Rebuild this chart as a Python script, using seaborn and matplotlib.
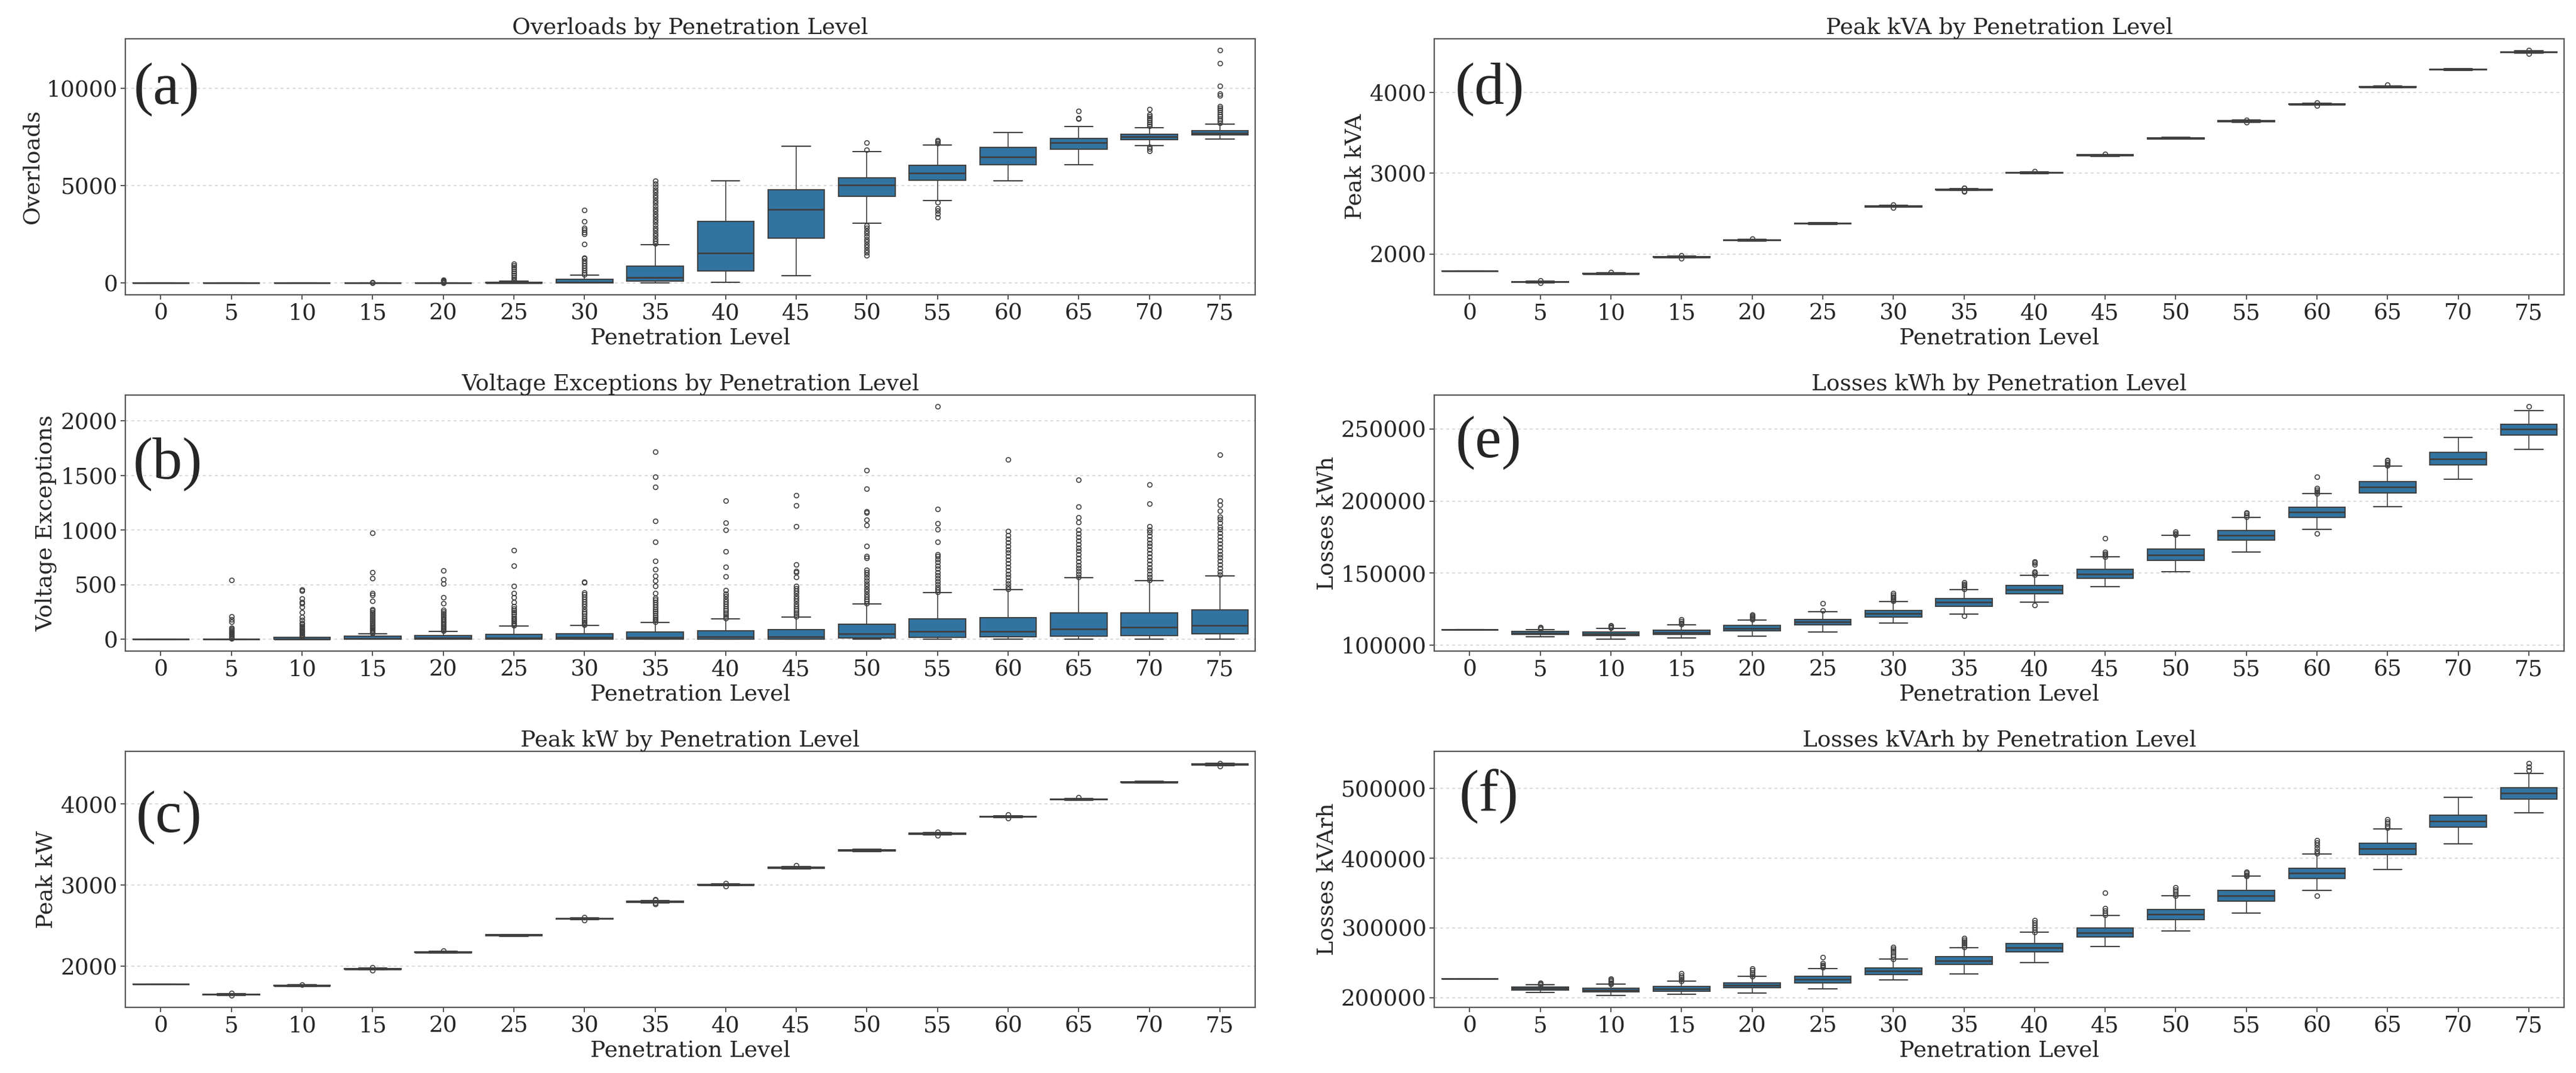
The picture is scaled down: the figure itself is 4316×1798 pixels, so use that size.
import numpy as np
import pandas as pd
import seaborn as sns
import matplotlib.pyplot as plt
from matplotlib.ticker import MultipleLocator

sns.set_style('ticks')
plt.rcParams['font.family'] = ['DejaVu Serif']

levels = [0, 5, 10, 15, 20, 25, 30, 35, 40, 45, 50, 55, 60, 65, 70, 75]

# (a) Overloads - box stats
ovl_q1 = [0, 0, 0, 0, 0, 0, 5, 90, 620, 2300, 4450, 5290, 6080, 6860, 7370, 7590]
ovl_med = [0, 0, 0, 0, 0, 10, 40, 300, 1550, 3770, 5030, 5640, 6480, 7210, 7510, 7700]
ovl_q3 = [0, 0, 0, 0, 5, 50, 190, 870, 3170, 4780, 5410, 6040, 6970, 7430, 7640, 7820]
ovl_lo = [0, 0, 0, 0, 0, 0, 0, 0, 55, 380, 3080, 4230, 5250, 6070, 7060, 7380]
ovl_hi = [0, 0, 0, 0, 10, 105, 420, 1970, 5240, 7030, 6750, 7090, 7730, 8030, 7980, 8170]
ovl_fl = [[], [], [], [25, 45], [20, 45, 70, 100, 130, 160],
          [120, 200, 300, 400, 500, 600, 700, 800, 900, 980],
          [430, 540, 660, 780, 900, 1020, 1140, 1260, 1310, 2000, 2510, 2620, 2750, 2820, 3150, 3740],
          [2020, 2150, 2290, 2420, 2560, 2700, 2840, 2980, 3120, 3260, 3400, 3540, 3680, 3820,
           3960, 4100, 4240, 4380, 4520, 4660, 4800, 4940, 5080, 5240],
          [], [],
          [6850, 7200, 2960, 2820, 2680, 2540, 2400, 2260, 2120, 1980, 1840, 1700, 1560, 1420],
          [7180, 7260, 7340, 4150, 3830, 3720, 3550, 3390],
          [], [8420, 8470, 8820],
          [8060, 8160, 8260, 8360, 8460, 8560, 8660, 8930, 6990, 6890, 6780],
          [8220, 8330, 8440, 8550, 8660, 8770, 8880, 8990, 9070, 9620, 9730, 10110, 11290, 11940]]

# (b) Voltage Exceptions
vex_q1 = [0, 0, 0, 0, 0, 0, 0, 0, 0, 4, 13, 17, 23, 27, 33, 52]
vex_med = [0, 0, 3, 5, 12, 15, 20, 21, 23, 23, 52, 73, 75, 96, 111, 128]
vex_q3 = [0, 0, 17, 27, 33, 48, 54, 69, 79, 90, 138, 188, 199, 243, 240, 268]
vex_lo = [0, 0, 0, 0, 0, 0, 0, 0, 0, 0, 0, 0, 0, 0, 0, 0]
vex_hi = [0, 0, 21, 52, 75, 121, 128, 157, 190, 205, 326, 429, 456, 565, 540, 580]
vex_fl = [[],
          [8, 15, 25, 35, 45, 55, 65, 75, 85, 95, 105, 160, 185, 210, 545],
          [25, 32, 40, 48, 55, 63, 72, 80, 90, 100, 112, 125, 140, 152, 175, 205, 247, 299, 330, 341, 372, 446, 456],
          [56, 65, 75, 86, 98, 110, 122, 135, 150, 165, 182, 198, 215, 232, 250, 265, 278, 351, 408, 425, 560, 613, 975],
          [80, 92, 105, 118, 132, 146, 160, 175, 190, 205, 222, 238, 255, 268, 330, 383, 508, 550, 628],
          [126, 138, 150, 165, 180, 196, 212, 230, 248, 265, 282, 300, 341, 383, 425, 487, 672, 818],
          [132, 145, 160, 178, 196, 215, 235, 256, 278, 300, 322, 345, 368, 392, 412, 430, 519, 529],
          [162, 175, 190, 206, 222, 240, 258, 278, 298, 320, 342, 362, 380, 425, 487, 540, 582, 640, 718,
           891, 1082, 1393, 1487, 1718],
          [195, 210, 226, 243, 262, 282, 302, 324, 346, 370, 395, 420, 448, 575, 665, 805, 1000, 1067, 1270],
          [210, 226, 243, 262, 282, 304, 326, 350, 374, 398, 422, 445, 468, 487, 571, 613, 623, 686, 1036, 1224, 1316],
          [332, 350, 370, 392, 414, 438, 462, 486, 512, 538, 564, 590, 612, 634, 743, 759, 854, 1044, 1094,
           1161, 1170, 1381, 1550],
          [432, 455, 480, 505, 532, 560, 588, 616, 645, 675, 705, 735, 760, 780, 891, 1010, 1061, 1192, 2130],
          [460, 485, 512, 540, 570, 600, 632, 664, 696, 728, 760, 792, 824, 856, 888, 920, 952, 990, 1648],
          [570, 596, 624, 652, 682, 712, 744, 776, 808, 840, 872, 904, 936, 968, 1000, 1073, 1115, 1213, 1460],
          [545, 572, 600, 630, 660, 692, 724, 756, 788, 820, 852, 884, 916, 948, 980, 1000, 1036, 1240, 1418],
          [590, 620, 652, 684, 716, 748, 780, 812, 844, 876, 908, 940, 972, 1010, 1030, 1070, 1100, 1120,
           1178, 1230, 1272, 1690]]

# (c) Peak kW
kw_q1 = [1782, 1650, 1757, 1963, 2168, 2377, 2582, 2791, 3000, 3211, 3422, 3629, 3840, 4051, 4263, 4481]
kw_med = [1782, 1654, 1761, 1967, 2173, 2382, 2587, 2796, 3005, 3216, 3428, 3634, 3845, 4057, 4269, 4486]
kw_q3 = [1782, 1658, 1765, 1971, 2178, 2388, 2592, 2801, 3010, 3221, 3434, 3639, 3850, 4063, 4275, 4491]
kw_lo = [1782, 1642, 1750, 1955, 2160, 2370, 2575, 2784, 2993, 3203, 3415, 3621, 3832, 4043, 4256, 4473]
kw_hi = [1782, 1666, 1772, 1979, 2186, 2395, 2599, 2808, 3017, 3229, 3441, 3647, 3858, 4071, 4282, 4499]
kw_fl = [[], [1638, 1670], [1776], [1985, 1950], [2192], [], [2566, 2608], [2770, 2778, 2816, 2823],
         [2985, 3025], [3245], [], [3655, 3612], [3866, 3823], [4080], [], [4505, 4468]]

# (d) Peak kVA
kva_q1 = [1790, 1652, 1752, 1959, 2166, 2373, 2584, 2791, 3002, 3217, 3426, 3638, 3848, 4062, 4278, 4494]
kva_med = [1790, 1656, 1756, 1963, 2171, 2378, 2589, 2796, 3007, 3222, 3432, 3643, 3853, 4068, 4284, 4499]
kva_q3 = [1790, 1660, 1760, 1967, 2176, 2384, 2594, 2801, 3012, 3227, 3438, 3648, 3858, 4074, 4290, 4504]
kva_lo = [1790, 1644, 1745, 1951, 2158, 2366, 2577, 2784, 2995, 3210, 3419, 3630, 3840, 4054, 4271, 4486]
kva_hi = [1790, 1668, 1767, 1975, 2184, 2391, 2601, 2808, 3019, 3234, 3445, 3656, 3866, 4082, 4297, 4512]
kva_fl = [[], [1640, 1672], [1774], [1980, 1946], [2190], [], [2570, 2610], [2776, 2782, 2814, 2818],
          [3024], [3240], [], [3662, 3626], [3872, 3836], [4094], [], [4520, 4480]]

# (e) Losses kWh
lkwh_q1 = [110930, 107450, 106650, 107450, 109980, 113940, 119640, 126930, 135640, 146570, 158930, 172710, 188550, 205810, 225140, 245730]
lkwh_med = [110930, 108400, 107920, 108870, 111720, 116000, 122020, 129620, 138650, 149420, 162570, 176190, 192190, 209610, 229410, 249850]
lkwh_q3 = [110930, 109350, 109030, 110300, 113460, 117740, 124080, 132310, 141500, 152590, 166530, 179520, 195670, 213410, 233690, 253330]
lkwh_lo = [110930, 105860, 103960, 104750, 106340, 109030, 115210, 121700, 129620, 140710, 151000, 164790, 180150, 196150, 215160, 235750]
lkwh_hi = [110930, 110930, 111720, 114260, 117580, 123290, 130100, 138650, 148630, 161140, 176350, 188700, 205180, 224190, 243990, 262680]
lkwh_fl = [[], [111100, 112000, 112600], [111900, 112500, 113100, 113800],
           [114600, 115500, 116400, 117700], [117900, 118700, 119500, 120300, 121200],
           [124100, 128800], [130500, 131500, 132600, 133700, 134800, 136000],
           [139100, 140200, 141300, 142400, 143600, 120100],
           [148800, 150000, 151000, 155800, 157000, 158100, 127700],
           [161400, 162500, 163500, 164500, 174000], [176500, 177600, 178700],
           [189100, 190200, 191500, 191900], [205400, 206500, 207600, 208800, 216700, 177600],
           [224500, 225600, 226700, 227800, 228600], [], [265500]]

# (f) Losses kVArh
lkvarh_q1 = [227000, 210790, 208000, 209400, 214620, 221580, 233070, 247690, 265790, 286680, 312090, 338540, 370570, 405030, 444370, 484740]
lkvarh_med = [227000, 213230, 210790, 212880, 218100, 226110, 237940, 252910, 271710, 292940, 319400, 346550, 378580, 413390, 453420, 493450]
lkvarh_q3 = [227000, 215320, 213230, 216010, 221580, 230980, 242470, 258480, 277280, 299550, 326710, 353510, 385540, 421740, 462120, 501100]
lkvarh_lo = [227000, 207310, 202780, 204530, 206960, 212180, 225060, 233770, 250130, 273450, 295380, 321140, 353510, 383450, 420700, 464900]
lkvarh_hi = [227000, 218800, 219150, 223320, 230630, 241420, 255350, 271710, 293640, 318000, 345850, 374050, 405730, 442270, 487180, 521990]
lkvarh_fl = [[], [219000, 220200, 221200], [219800, 221500, 223400, 225400, 227500],
             [223800, 226000, 228500, 231500, 234500], [231000, 233500, 236000, 238800, 241400],
             [243200, 245000, 247100, 249100, 257800],
             [255600, 258500, 261500, 264500, 267500, 270200, 272700],
             [272800, 275000, 277500, 280000, 282800, 285600],
             [294000, 297000, 300500, 304000, 307500, 311000],
             [318900, 321500, 324500, 328400, 350000], [346200, 349000, 352000, 355000, 358000],
             [374600, 376500, 378500, 380700], [407000, 410500, 414500, 418500, 422000, 425900, 346500],
             [443500, 446500, 449500, 452500, 455500], [], [526200, 531000, 536600]]


def box_stats(q1, med, q3, lo, hi, fl):
    # build the dicts that ax.bxp wants
    return [{'q1': a, 'med': b, 'q3': c, 'whislo': d, 'whishi': e, 'fliers': f}
            for a, b, c, d, e, f in zip(q1, med, q3, lo, hi, fl)]


box_color = sns.desaturate(sns.color_palette()[0], 0.75)
line_color = (0.25, 0.25, 0.25)

panels = [
    (0, 0, box_stats(ovl_q1, ovl_med, ovl_q3, ovl_lo, ovl_hi, ovl_fl), 'Overloads', 5000, '(a)', (224, 150)),
    (1, 0, box_stats(vex_q1, vex_med, vex_q3, vex_lo, vex_hi, vex_fl), 'Voltage Exceptions', 500, '(b)', (223, 778)),
    (2, 0, box_stats(kw_q1, kw_med, kw_q3, kw_lo, kw_hi, kw_fl), 'Peak kW', 1000, '(c)', (228, 1370)),
    (0, 1, box_stats(kva_q1, kva_med, kva_q3, kva_lo, kva_hi, kva_fl), 'Peak kVA', 1000, '(d)', (2438, 150)),
    (1, 1, box_stats(lkwh_q1, lkwh_med, lkwh_q3, lkwh_lo, lkwh_hi, lkwh_fl), 'Losses kWh', 50000, '(e)', (2439, 742)),
    (2, 1, box_stats(lkvarh_q1, lkvarh_med, lkvarh_q3, lkvarh_lo, lkvarh_hi, lkvarh_fl), 'Losses kVArh', 100000, '(f)', (2445, 1335)),
]

W, H = 4316, 1798
fig, axes = plt.subplots(3, 2, figsize=(W / 100, H / 100), dpi=100)
fig.subplots_adjust(left=0.0487, right=0.9954, top=0.9639, bottom=0.0612, wspace=0.1585, hspace=0.392)

for row, col, stats, name, step, letter, pos in panels:
    ax = axes[row, col]
    ax.bxp(stats, positions=range(len(levels)), widths=0.8, capwidths=0.4, patch_artist=True,
           boxprops=dict(facecolor=box_color, edgecolor=line_color, linewidth=1.5),
           medianprops=dict(color=line_color, linewidth=2),
           whiskerprops=dict(color=line_color, linewidth=1.2),
           capprops=dict(color=line_color, linewidth=1.5),
           flierprops=dict(marker='o', markerfacecolor='none', markeredgecolor=line_color,
                           markersize=5.5, markeredgewidth=1.2))
    ax.set_xlim(-0.5, len(levels) - 0.5)
    ax.set_xticks(range(len(levels)))
    ax.set_xticklabels([str(v) for v in levels])
    ax.yaxis.set_major_locator(MultipleLocator(step))
    ax.ticklabel_format(axis='y', style='plain', useOffset=False)
    ax.set_axisbelow(True)
    ax.yaxis.grid(True, linestyle=(0, (3, 3)), color='#d4d4d4', linewidth=1.2)
    ax.set_title(name + ' by Penetration Level', fontsize=27)
    ax.set_xlabel('Penetration Level', fontsize=27)
    ax.set_ylabel(name, fontsize=27)
    ax.tick_params(labelsize=27, length=6, width=1.3, color='#444444')
    for sp in ax.spines.values():
        sp.set_visible(True)
        sp.set_color('#555555')
        sp.set_linewidth(1.6)
    fig.text(pos[0] / W, 1 - pos[1] / H, letter, fontsize=72, family='Liberation Serif',
             ha='left', va='center')

fig.savefig('out.png', dpi=100)
